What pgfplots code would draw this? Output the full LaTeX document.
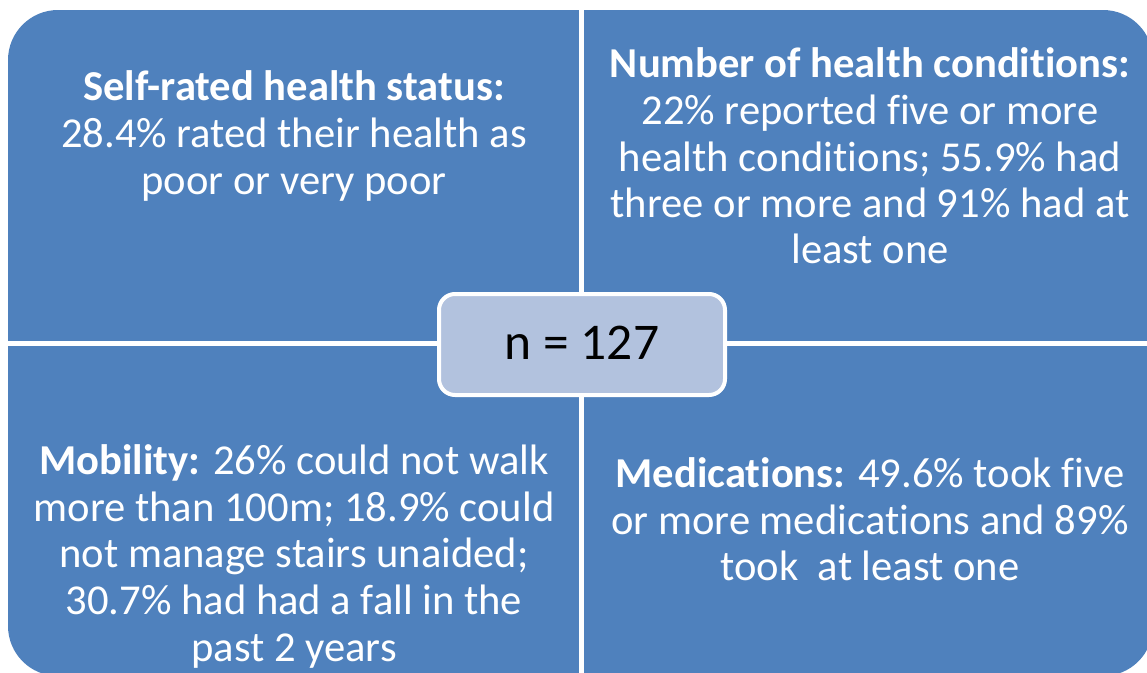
\documentclass[border=0pt]{standalone}
\usepackage{pgfplots}
\pgfplotsset{compat=1.18}
\usepackage{fontspec}
\setmainfont[RawFeature={-liga;-clig;-calt;-dlig}]{Carlito}
\definecolor{qblue}{RGB}{79,129,189}
\definecolor{cbox}{RGB}{178,194,222}
\begin{document}
\begin{tikzpicture}
\begin{axis}[scale only axis, width=1147pt, height=672pt,
  xmin=0, xmax=1147, ymin=0, ymax=672, y dir=reverse,
  hide axis, clip=true]
\addplot[draw=none, forget plot] coordinates {(0,0) (1147,672)};
% quadrants
\fill[qblue, rounded corners=50pt] (8,10) rectangle (1153,676);
\fill[white] (579,-5) rectangle (584,690);
\fill[white] (-5,341) rectangle (1160,346);
% centre box
\filldraw[fill=cbox, draw=white, line width=4pt, rounded corners=16pt] (439,294) rectangle (725,395);
\node[anchor=base, font=\fontsize{51.5}{60}\selectfont] at (582,359) {n = 127};
% text
\tikzset{qt/.style={anchor=base, text=white, font=\fontsize{42.6}{50}\selectfont, inner sep=0pt}}
% TL
\node[qt] at (294,100) {\textbf{Self-rated health status:}};
\node[qt] at (294,147) {28.4\% rated their health as};
\node[qt] at (294,194) {poor or very poor};
% TR
\node[qt] at (870,77) {\textbf{Number of health conditions:}};
\node[qt] at (870,124) {22\% reported five or more};
\node[qt] at (870,171) {health conditions; 55.9\% had};
\node[qt] at (870,217) {three or more and 91\% had at};
\node[qt] at (870,263) {least one};
% BL
\node[qt] at (294,474) {\textbf{Mobility:} 26\% could not walk};
\node[qt] at (294,521) {more than 100m; 18.9\% could};
\node[qt] at (294,567) {not manage stairs unaided;};
\node[qt] at (294,614) {30.7\% had had a fall in the};
\node[qt] at (294,661) {past 2 years};
% BR
\node[qt] at (870,487) {\textbf{Medications:} 49.6\% took five};
\node[qt] at (870,534) {or more medications and 89\%};
\node[qt] at (870,580) {took\ \ at least one};
\end{axis}
\end{tikzpicture}
\end{document}
